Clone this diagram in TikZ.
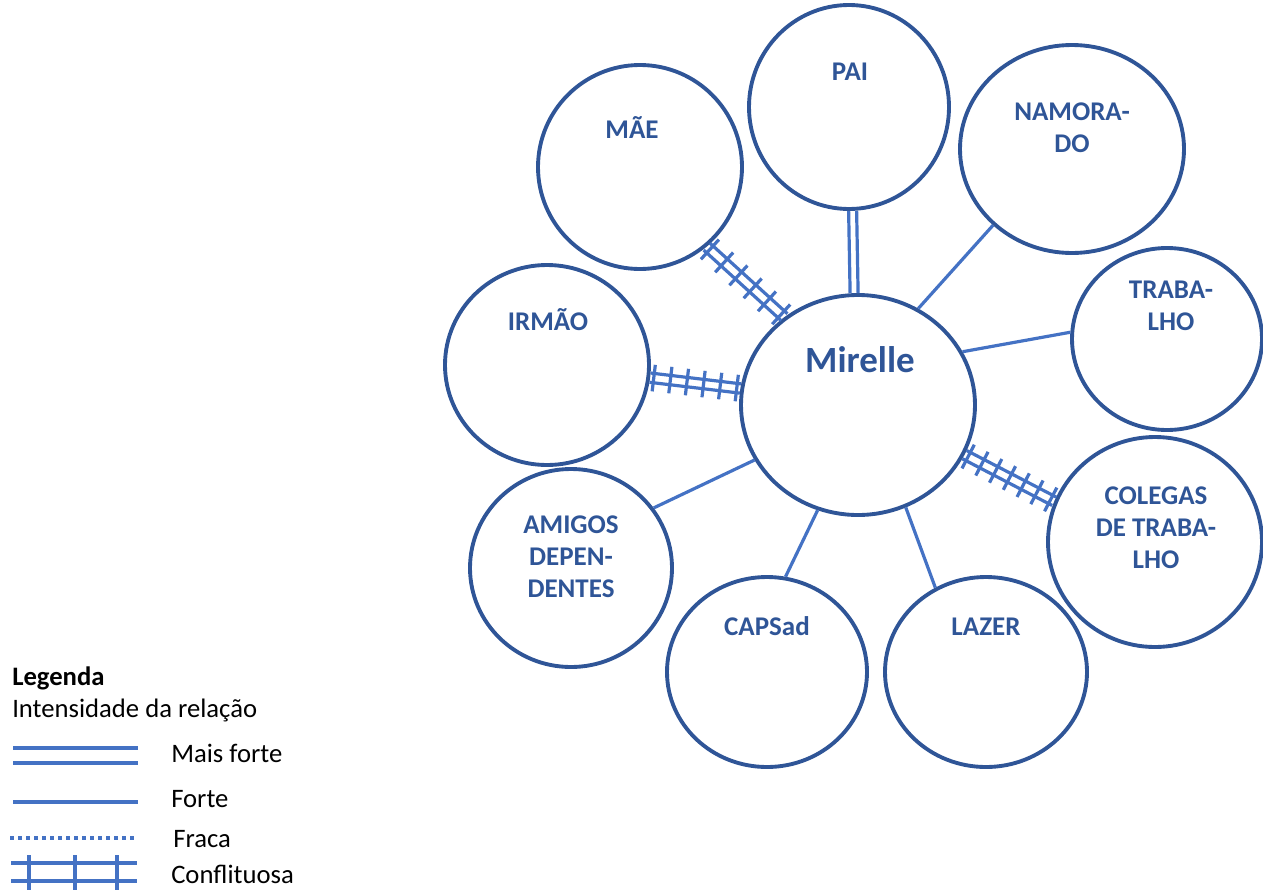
\documentclass[tikz,border=0pt]{standalone}
\usepackage{fontspec}
\setmainfont{Carlito}
\usetikzlibrary{shapes.geometric,calc}
\definecolor{cdark}{HTML}{2F5597}
\definecolor{cline}{HTML}{4472C4}
\tikzset{
  circ/.style={ellipse, draw=cdark, line width=2.9pt, inner sep=0pt},
  lab/.style={text=cdark, inner sep=0pt, anchor=base, align=center,
    font=\fontsize{20.25pt}{24pt}\selectfont\bfseries},
  cl/.style={draw=cline, line width=2.4pt},
  leg/.style={inner sep=0pt, anchor=base west, text=black,
    font=\fontsize{20pt}{22pt}\selectfont},
}
\newcommand\dblline[3]{%
  \draw[cl] ($(#1)!#3!90:(#2)$) -- ($(#2)!#3!-90:(#1)$);
  \draw[cl] ($(#1)!#3!-90:(#2)$) -- ($(#2)!#3!90:(#1)$);
}
\newcommand\confl[3]{%
  \dblline{#1}{#2}{3.5pt}
  \foreach \k in {1,...,#3}{%
    \pgfmathsetmacro\ff{0.04+0.92*(\k-1)/(#3-1)}
    \coordinate (tk) at ($(#1)!\ff!(#2)$);
    \draw[cl] ($(tk)!10pt!90:(#2)$) -- ($(tk)!10pt!-90:(#2)$);
  }%
}
\begin{document}
\begin{tikzpicture}[x={(0.75pt,0)}, y={(0,-0.75pt)}]
\useasboundingbox (0,0) rectangle (1263,889);
% circles
\node[circ, minimum width=175.5pt, minimum height=165pt] (mir) at (858,405) {};
\node[circ, minimum width=150pt, minimum height=153pt] (pai) at (849,107) {};
\node[circ, minimum width=153pt, minimum height=153pt] (mae) at (640,167) {};
\node[circ, minimum width=168pt, minimum height=156pt] (nam) at (1072,149) {};
\node[circ, minimum width=142.5pt, minimum height=136.5pt] (trab) at (1167,339) {};
\node[circ, minimum width=153pt, minimum height=150pt] (irm) at (547,365) {};
\node[circ, minimum width=160.5pt, minimum height=157.5pt] (col) at (1155,542) {};
\node[circ, minimum width=151.5pt, minimum height=148.5pt] (ami) at (571,568) {};
\node[circ, minimum width=150pt, minimum height=142.5pt] (caps) at (767,672) {};
\node[circ, minimum width=151.5pt, minimum height=142.5pt] (laz) at (986,672) {};
% labels (base anchor = baseline of the last line)
\node[lab, font=\fontsize{27.75pt}{30pt}\selectfont\bfseries] (tmir) at (860,372) {Mirelle};
\node[lab] (tpai) at (850,80.5) {PAI};
\node[lab] (tmae) at (632,138) {MÃE};
\node[lab] (tnam) at (1072,152) {NAMORA-\\DO};
\node[lab] (ttrab) at (1171,330) {TRABA-\\LHO};
\node[lab] (tirm) at (548,330) {IRMÃO};
\node[lab] (tcol) at (1156,568) {COLEGAS\\DE TRABA-\\LHO};
\node[lab] (tami) at (571,597) {AMIGOS\\DEPEN-\\DENTES};
\node[lab] (tcaps) at (767,635) {CAPSad};
\node[lab] (tlaz) at (986,635) {LAZER};
% connectors
\draw[cl] (nam.-136) -- (mir.58);
\draw[cl] (trab.176) -- (mir.27);
\draw[cl] (ami.36) -- (mir.-152);
\draw[cl] (caps.79) -- (mir.-111);
\draw[cl] (laz.121) -- (mir.-65.5);
\dblline{pai.-88}{mir.92}{3pt}
\confl{mae.-50}{mir.130}{6}
\confl{irm.-7}{mir.172.6}{6}
\confl{mir.-25.5}{col.158.7}{7}
% legend
\node[leg, font=\fontsize{20pt}{22pt}\selectfont\bfseries] (lgd) at (12,685) {Legenda};
\node[leg] (lint) at (12,717) {Intensidade da relação};
\draw[cl] (13,748) -- (138,748);
\draw[cl] (13,763) -- (138,763);
\node[leg] (lmf) at (171,762) {Mais forte};
\draw[cl] (13,802) -- (138,802);
\node[leg] (lf) at (171,807) {Forte};
\draw[cl, line width=2.6pt, dash pattern=on 3pt off 3pt] (10,838) -- (134,838);
\node[leg] (lfr) at (173,847) {Fraca};
\draw[cl] (11,863) -- (137,863);
\draw[cl] (11,881) -- (137,881);
\foreach \xx in {29,75,117}{\draw[cl] (\xx,855) -- (\xx,892);}
\node[leg] (lco) at (171,883) {Conflituosa};
\end{tikzpicture}
\end{document}
